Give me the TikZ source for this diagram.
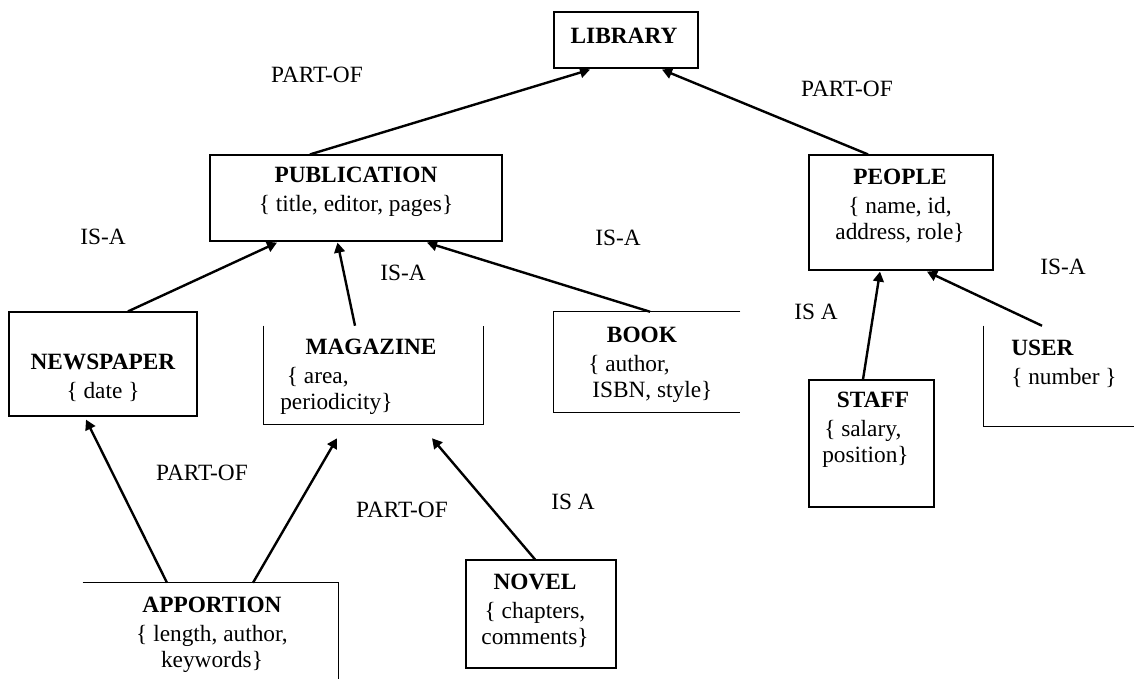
\documentclass[tikz,border=0pt]{standalone}
\usepackage{fontspec}
\setmainfont{Liberation Serif}
\usetikzlibrary{arrows.meta,positioning,fit,calc}

\begin{document}
\begin{tikzpicture}[x=0.75pt,y=-0.75pt,
    font=\fontsize{17.5}{19.5}\selectfont,
    box/.style={draw,line width=0.9pt,inner sep=0pt},
    openbox/.style={inner sep=0pt},
    txt/.style={inner sep=0pt,anchor=north,align=center},
    rel/.style={line width=1.8pt,-{Triangle[length=7.5pt,width=8pt]}},
    lbl/.style={inner sep=0pt}]
  \useasboundingbox (0,0) rectangle (1134,679);

  % boxes
  \node[box,fit={(554,12) (698,68)}] (lib) {};
  \node[box,fit={(210,155) (502,241)}] (pub) {};
  \node[box,fit={(809,155) (993,270)}] (ppl) {};
  \node[box,fit={(9,312) (197,416)}] (news) {};
  \node[openbox,fit={(264,326) (483,424)}] (mag) {};
  \node[openbox,fit={(554,312) (740,412)}] (book) {};
  \node[box,fit={(809,380) (934,507)}] (staff) {};
  \node[openbox,fit={(984,326) (1134,426)}] (user) {};
  \node[openbox,fit={(83,583) (338,679)}] (appo) {};
  \node[box,fit={(466,560) (616,668)}] (novel) {};

  % sides that are drawn
  \draw[line width=0.9pt] (mag.north west) |- (mag.south east) -- (mag.north east);
  \draw[line width=0.9pt] (book.north east) -- (book.north west)
    |- (book.south east);
  \draw[line width=0.9pt] (user.north west) |- (user.south east);
  \draw[line width=0.9pt] (appo.north west) -- (appo.north east)
    -- (appo.south east);

  % texts
  \node[txt] (libT) at (624,28) {\textbf{LIBRARY}};
  \node[txt] (pubT) at (356,167) {\textbf{PUBLICATION}\\[2pt]
    \{ title, editor, pages\}};
  \node[txt] (pplT) at (900,169) {\textbf{PEOPLE}\\[2pt]
    \{ name, id,\\address, role\}};
  \node[txt] (newsT) at (103,354) {\textbf{NEWSPAPER}\\[2pt]\{ date \}};
  \node[txt,anchor=north west,align=left] (magT) at (280,339)
    {\hspace*{19pt}\textbf{MAGAZINE}\\[2pt]\hspace*{5pt}\{ area,\\periodicity\}};
  \node[txt,anchor=north west,align=left] (bookT) at (588,327)
    {\hspace*{14pt}\textbf{BOOK}\\[2pt]\{ author,\\\hspace*{3pt}ISBN, style\}};
  \node[txt,anchor=north west,align=left] (staffT) at (822,392)
    {\hspace*{11pt}\textbf{STAFF}\\[2pt]\hspace*{1.5pt}\{ salary,\\position\}};
  \node[txt,anchor=north west,align=left] (userT) at (1011,340)
    {\textbf{USER}\\[2pt]\{ number \}};
  \node[txt] (appoT) at (212,597) {\textbf{APPORTION}\\[2pt]
    \{ length, author,\\keywords\}};
  \node[txt] (novelT) at (535,574) {\textbf{NOVEL}\\[2pt]
    \{ chapters,\\comments\}};

  % relation names
  \node[lbl] (po1) at (317,75) {PART-OF};
  \node[lbl] (po2) at (847,89) {PART-OF};
  \node[lbl] (isa1) at (103,237) {IS-A};
  \node[lbl] (isa2) at (403,273) {IS-A};
  \node[lbl] (isa3) at (618,238) {IS-A};
  \node[lbl] (isa4) at (1063,267) {IS-A};
  \node[lbl] (isa5) at (816,312) {IS A};
  \node[lbl] (po3) at (202,473) {PART-OF};
  \node[lbl] (po4) at (402,510) {PART-OF};
  \node[lbl] (isa6) at (573,502) {IS A};

  % connectors
  \draw[rel] ($(pub.north)+(-46,0)$) -- ($(lib.south)+(-36,1)$);
  \draw[rel] ($(ppl.north)+(-33,0)$) -- ($(lib.south)+(36,1)$);
  \draw[rel] ($(news.north)+(25,0)$) -- ($(pub.south)+(-79,1)$);
  \draw[rel] ($(mag.north)+(-18.5,0)$) -- ($(pub.south)+(-18.5,1)$);
  \draw[rel] ($(book.north)+(3,0)$) -- ($(pub.south)+(71,1)$);
  \draw[rel] ($(staff.north)+(-8.5,0)$) -- ($(ppl.south)+(-21,1)$);
  \draw[rel] ($(user.north)+(-17,0)$) -- ($(ppl.south)+(26,1)$);
  \draw[rel] ($(appo.north)+(-43.5,0)$) -- ($(news.south)+(-17,3)$);
  \draw[rel] ($(appo.north)+(42.5,0)$) -- ($(mag.south)+(-36.5,14)$);
  \draw[rel] ($(novel.north)+(-6,0)$) -- ($(mag.south)+(58.5,14)$);
\end{tikzpicture}
\end{document}
